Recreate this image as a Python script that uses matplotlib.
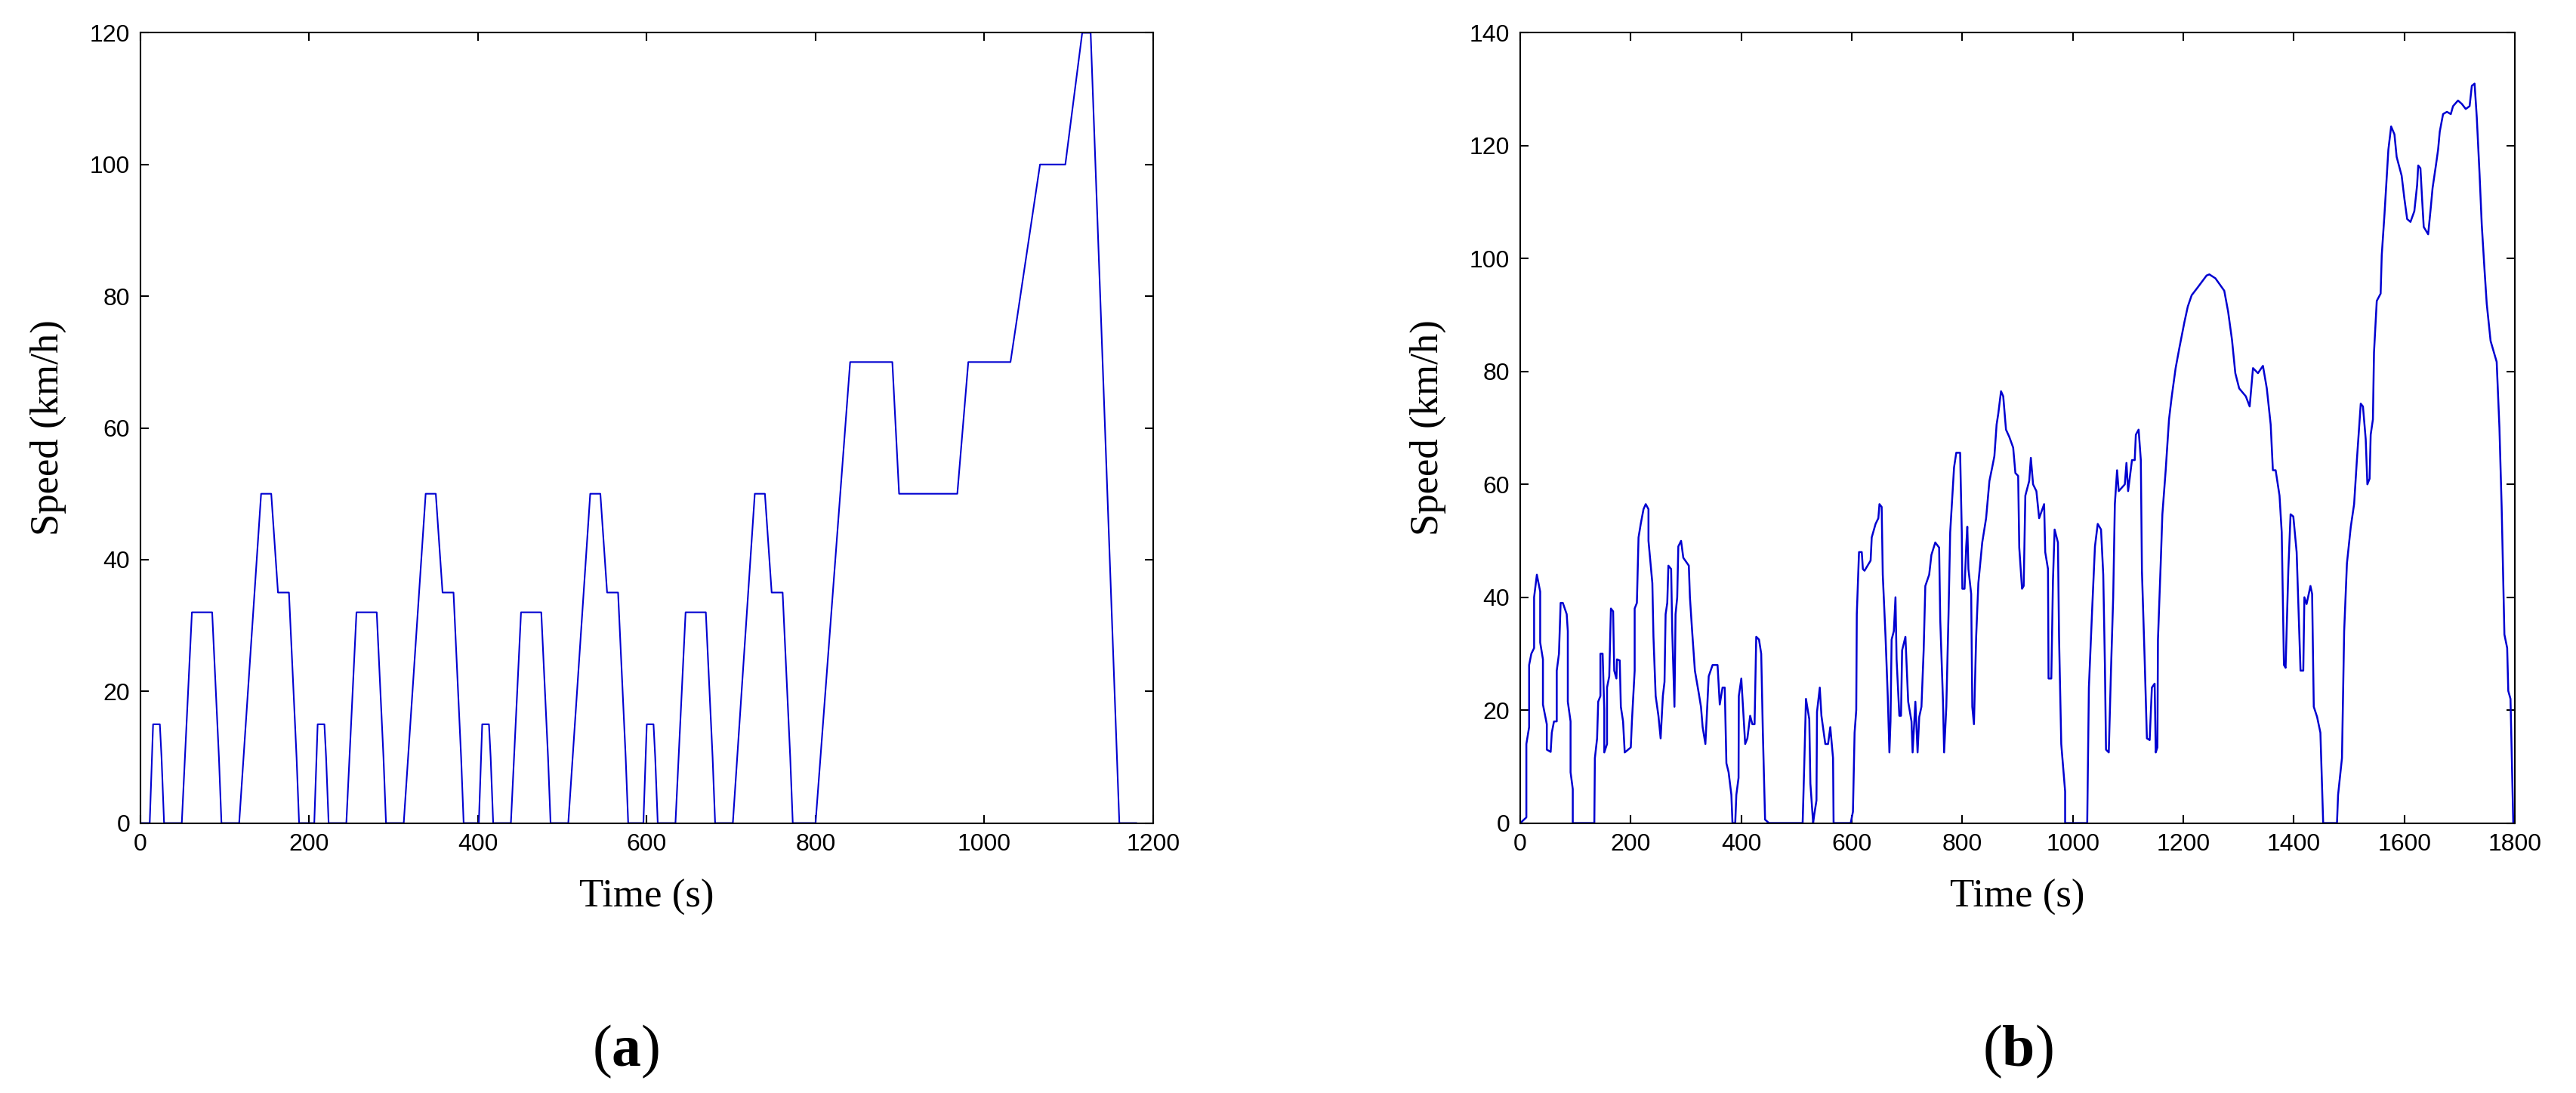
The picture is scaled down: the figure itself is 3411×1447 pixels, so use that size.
import matplotlib
matplotlib.use("Agg")
import matplotlib.pyplot as plt
import numpy as np

# (a) NEDC breakpoints (time s, speed km/h)
ece_t = [0, 11, 15, 23, 25, 28, 49, 61, 85, 93, 96, 117, 143, 155, 163, 176, 185, 188, 195]
ece_v = [0, 0, 15, 15, 10, 0, 0, 32, 32, 10, 0, 0, 50, 50, 35, 35, 10, 0, 0]
eudc_t = [780, 800, 841, 891, 899, 968, 981, 1031, 1066, 1096, 1116, 1126, 1160, 1180]
eudc_v = [0, 0, 70, 70, 50, 50, 70, 70, 100, 100, 120, 120, 0, 0]

# (b) WLTC-like cycle
b_t = [0, 11, 11, 16, 16, 20, 25, 25, 30, 36, 36, 41, 41, 48, 48, 55, 57, 61, 66, 66, 70, 73, 77, 84, 86, 86, 91, 91, 95, 95,
       134, 135, 139, 141, 145, 145, 149, 152, 152, 157, 157, 161, 164, 168, 170, 174, 175, 180, 182, 186, 189, 200, 202, 207, 207,
       211, 214, 218, 223, 227, 232, 232, 239, 241, 245, 250, 254, 258, 261, 263, 266, 268, 273, 275, 279, 281, 284, 286, 291, 295,
       305, 307, 311, 316, 323, 327, 330, 335, 341, 348, 357, 361, 366, 370, 373, 377, 382, 384, 389, 391, 395, 395.5, 400, 404,
       407, 411, 416, 420, 424, 427, 432, 436, 439, 443, 450, 511, 514, 517, 523, 525, 530, 532, 536, 537, 542, 545, 552, 557, 561,
       566, 567, 598, 602, 605, 608, 609, 613, 618, 620,
       623, 634, 636, 643, 648, 650, 654, 656, 661, 665, 668, 670, 672, 676, 679, 681, 686, 689, 691, 697, 702, 708, 710, 715, 719,
       722, 726, 730, 733, 740, 744, 751, 758, 760, 765, 767, 771, 775, 778, 785, 789, 796, 799, 800, 804, 807, 809, 811, 816, 818,
       821, 825, 829, 836, 843, 849, 854, 858, 862, 865, 870, 874, 879, 885, 892, 896, 901, 903, 908, 911, 914, 921, 924, 928, 934,
       939, 948, 950, 955, 956, 961, 964, 967, 973, 975, 979, 986, 986, 1026, 1029, 1035, 1040, 1045, 1051, 1055, 1058, 1060, 1065,
       1069, 1073, 1076, 1080, 1083, 1094, 1097, 1100, 1107, 1112, 1114, 1119, 1123, 1125, 1130, 1134, 1139, 1143, 1148, 1150, 1153,
       1154, 1159, 1162, 1168, 1174, 1179, 1186, 1193, 1202, 1208, 1215, 1226, 1242,
       1247, 1258, 1274, 1281, 1288, 1294, 1301, 1313, 1320, 1326, 1335, 1344, 1351, 1358, 1362, 1367, 1374, 1378, 1382, 1385, 1390,
       1394, 1399, 1405, 1410, 1412, 1417, 1419, 1423, 1430, 1433, 1436, 1442, 1448, 1453, 1478, 1480, 1487, 1491, 1496, 1503, 1509,
       1514, 1521, 1525, 1530, 1533, 1537, 1539, 1543, 1545, 1550, 1557, 1559, 1564, 1571, 1576, 1582, 1586, 1595, 1600, 1605, 1611,
       1618, 1623, 1625, 1629, 1632, 1635, 1643, 1648, 1651, 1657, 1661, 1664, 1670, 1677, 1684, 1688, 1697, 1704, 1711, 1718, 1722,
       1727, 1731, 1736, 1740, 1745, 1749, 1756, 1767, 1772, 1776, 1781, 1786, 1788, 1792, 1794, 1797, 1800]
b_v = [0, 1, 14, 17, 28, 30, 31, 40, 44, 41, 32, 29, 21, 17.5, 13, 12.6, 16, 18, 18, 27, 30, 39, 39, 37, 34, 21.5, 18, 9, 6, 0,
       0, 11.5, 15, 21.5, 22.5, 30, 30, 20, 12.5, 14, 24, 26, 38, 37.5, 27, 25.6, 29, 28.8, 20.6, 18, 12.5, 13.4, 18, 27, 38,
       39, 50.6, 53, 55.6, 56.5, 55.6, 50, 42.5, 33, 22.5, 19, 15, 22.5, 25, 37, 39, 45.6, 45, 34, 20.6, 37, 40, 49, 50, 47,
       45.6, 40, 34, 27, 23, 20.6, 17, 14, 26, 28, 28, 21, 24, 24, 10.6, 9, 5, 0, 0, 5, 8, 22.5, 25.6, 19,
       14, 15, 19, 17.5, 17.5, 33, 32.5, 30, 16, 0.6, 0, 0, 10.6, 22, 18.4, 7, 0, 1.5, 4, 19.7, 24, 19, 14, 14, 17,
       11.5, 0, 0, 2, 16, 20, 37, 48, 48, 45,
       44.7, 46.5, 50.6, 53, 54, 56.5, 56, 44, 33, 22.5, 12.5, 18, 32.5, 34, 40, 29, 19, 19, 30.6, 33, 21.5, 18, 12.5, 21.5, 12.5,
       18.8, 20.6, 30.6, 42, 44, 47.5, 49.7, 48.8, 36, 21.5, 12.5, 20.6, 37, 51.5, 63, 65.6, 65.6, 51.5, 41.5, 41.5, 49, 52.5, 45, 40.6, 20.6,
       17.5, 33, 42.5, 49.7, 54, 60.6, 63, 65, 70.6, 72.5, 76.5, 75.6, 69.7, 68.4, 66.5, 62, 61.5, 48.8, 41.5, 42, 58, 60.6, 64.7, 60, 58.8,
       54, 56.5, 48, 45, 25.6, 25.6, 43, 52, 49.7, 33, 14, 5.6, 0, 0, 24, 38, 49, 53, 52, 44, 28, 13, 12.5,
       27, 40, 56.5, 62.5, 58.8, 60, 63.8, 58.8, 64.3, 64.3, 68.8, 69.7, 64.3, 44.7, 28.8, 15, 14.7, 24, 24.7, 12.5, 13.4,
       32.5, 46, 54.7, 62.5, 71.5, 75.6, 80.6, 84.3, 88.8, 91.5, 93.5, 94.9, 97,
       97.2, 96.5, 94.3, 90.6, 85.6, 79.7, 77, 75.6, 73.8, 80.6, 79.7, 81, 77, 70.6, 62.5, 62.5, 58, 51.5, 28, 27.5, 45,
       54.7, 54.3, 48, 33, 27, 27, 40, 38.8, 42, 40.6, 20.6, 18.8, 16, 0, 0, 5, 11.5, 34, 46, 52.5, 56.5,
       64.3, 74.3, 73.8, 68, 60, 61, 68.8, 71.5, 83.4, 92.5, 93.8, 100.6, 107.9, 119.3, 123.4, 122, 118, 114.7, 110.6, 107, 106.5,
       108.4, 113, 116.5, 116, 110.6, 105.6, 104.3, 109.3, 112.5, 116.5, 119.3, 122.5, 125.6, 126, 125.6, 127, 128, 127.4, 126.5, 127, 130.6,
       131, 125, 115, 106, 98, 92, 85.4, 81.7, 70, 56, 33.4, 31, 23.4, 22, 13.4, 0, 0]

panel_labels = ["a", "b"]

a_t = []
a_v = []
for k in range(4):
    a_t += [t + 195 * k for t in ece_t]
    a_v += ece_v
a_t += eudc_t
a_v += eudc_v

plt.rcParams["mathtext.fontset"] = "custom"
plt.rcParams["mathtext.rm"] = "Liberation Serif"
plt.rcParams["mathtext.bf"] = "Liberation Serif:bold"

fig = plt.figure(figsize=(34.12, 14.47), dpi=100)
line_color = "#0000d0"
tick_family = ["Liberation Sans", "DejaVu Sans"]
serif = ["Liberation Serif", "DejaVu Serif"]
lab_font = {"family": serif, "size": 38}

ax1 = fig.add_axes([0.0545, 0.247, 0.393, 0.723])
ax2 = fig.add_axes([0.590, 0.247, 0.386, 0.723])

ax1.plot(a_t, a_v, color=line_color, lw=1.5)
ax1.set_xlim(0, 1200)
ax1.set_ylim(0, 120)
ax1.set_xticks(np.arange(0, 1201, 200))
ax1.set_yticks(np.arange(0, 121, 20))

ax2.plot(b_t, b_v, color=line_color, lw=1.8)
ax2.set_xlim(0, 1800)
ax2.set_ylim(0, 140)
ax2.set_xticks(np.arange(0, 1801, 200))
ax2.set_yticks(np.arange(0, 141, 20))

for ax in (ax1, ax2):
    ax.tick_params(direction="in", top=True, right=True, length=8, width=1.5, pad=10)
    for lbl in ax.get_xticklabels() + ax.get_yticklabels():
        lbl.set_fontfamily(tick_family)
        lbl.set_fontsize(23)
    for s in ax.spines.values():
        s.set_linewidth(1.5)
    ax.set_xlabel("Time (s)", fontdict=lab_font, labelpad=22)
    ax.set_ylabel("Speed (km/h)", fontdict=lab_font, labelpad=22)

for x, lab in zip([0.243, 0.783], panel_labels):
    fig.text(x, 0.038, "(" + r"$\mathbf{" + lab + "}$" + ")", ha="center", va="center",
             fontsize=56, family=serif)

fig.savefig("out.png", dpi=100)
